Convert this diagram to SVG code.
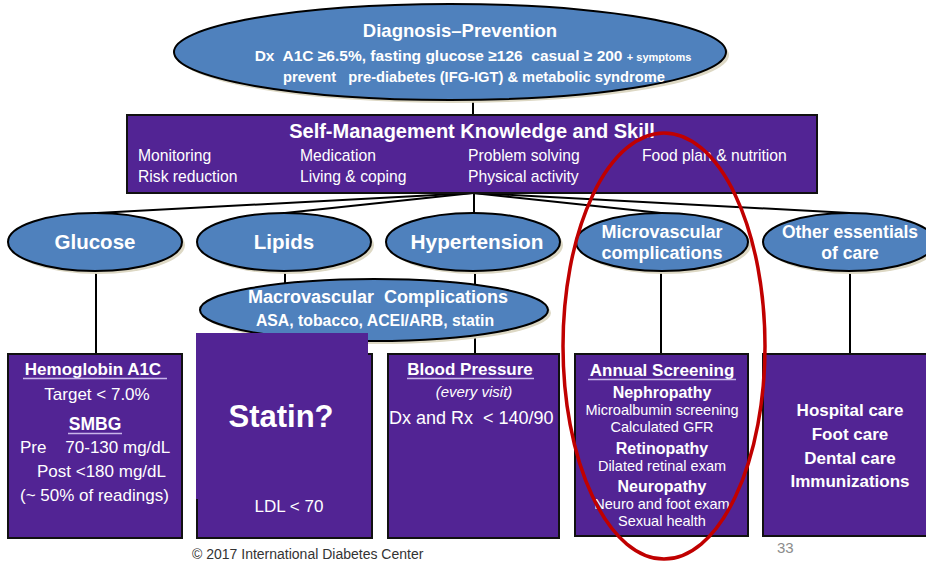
<svg xmlns="http://www.w3.org/2000/svg" width="926" height="563" viewBox="0 0 926 563">
<style>
text{font-family:"Liberation Sans",Arial,sans-serif;fill:#fff}
.b{font-weight:bold}
.m{text-anchor:middle}
.ell{fill:#4f81bd;stroke:#000;stroke-width:2}
.sh{fill:#ddd8c4}
.box{fill:#522494;stroke:#111;stroke-width:2}
.con{stroke:#000;stroke-width:2;fill:none}
.ul{stroke:#c9b6ea;stroke-width:1.6}
</style>
<rect width="926" height="563" fill="#fff"/>
<g id="connectors">
<line class="con" x1="473" y1="99" x2="473" y2="115"/>
<line class="con" x1="473" y1="193" x2="97" y2="213"/>
<line class="con" x1="473" y1="193" x2="285" y2="213"/>
<line class="con" x1="474" y1="193" x2="474" y2="213"/>
<line class="con" x1="473" y1="193" x2="661" y2="213"/>
<line class="con" x1="473" y1="193" x2="850" y2="213"/>
<line class="con" x1="96" y1="271" x2="96" y2="354"/>
<line class="con" x1="285" y1="271" x2="285" y2="354"/>
<line class="con" x1="475" y1="271" x2="475" y2="354"/>
<line class="con" x1="661" y1="271" x2="661" y2="354"/>
<line class="con" x1="850" y1="271" x2="850" y2="354"/>
</g>
<g id="diagnosis">
<ellipse class="sh" cx="453" cy="55" rx="276" ry="48"/>
<ellipse class="ell" cx="450" cy="52" rx="276" ry="48"/>
<text class="b m" x="460" y="37" font-size="18.5">Diagnosis–Prevention</text>
<text class="b m" x="473" y="61" font-size="15.5">Dx&#160; A1C ≥6.5%, fasting glucose ≥126&#160; casual ≥ 200 <tspan font-size="11">+ symptoms</tspan></text>
<text class="b m" x="474" y="82" font-size="14.7">prevent&#160;&#160; pre-diabetes (IFG-IGT) &amp; metabolic syndrome</text>
</g>
<g id="selfmanagement">
<rect class="box" x="127" y="115" width="690" height="78"/>
<text class="b m" x="472" y="138" font-size="20">Self-Management Knowledge and Skill</text>
<g font-size="15.7">
<text x="138" y="161">Monitoring</text>
<text x="300" y="161">Medication</text>
<text x="468" y="161">Problem solving</text>
<text x="642" y="161">Food plan &amp; nutrition</text>
<text x="138" y="182">Risk reduction</text>
<text x="300" y="182">Living &amp; coping</text>
<text x="468" y="182">Physical activity</text>
</g>
</g>
<g id="glucose">
<ellipse class="sh" cx="98" cy="245" rx="87" ry="29"/>
<ellipse class="ell" cx="95" cy="242" rx="87" ry="29"/>
<text class="b m" x="95" y="249" font-size="20.5">Glucose</text>
</g>
<g id="lipids">
<ellipse class="sh" cx="287" cy="245" rx="87" ry="29"/>
<ellipse class="ell" cx="284" cy="242" rx="87" ry="29"/>
<text class="b m" x="284" y="249" font-size="20.5">Lipids</text>
</g>
<g id="hypertension">
<ellipse class="sh" cx="476" cy="245" rx="87" ry="29"/>
<ellipse class="ell" cx="473" cy="242" rx="87" ry="29"/>
<text class="b m" x="477" y="249" font-size="20.8">Hypertension</text>
</g>
<g id="microvascular">
<ellipse class="sh" cx="665" cy="245" rx="86" ry="29"/>
<ellipse class="ell" cx="662" cy="242" rx="86" ry="29"/>
<text class="b m" x="662" y="238" font-size="18">Microvascular</text>
<text class="b m" x="662" y="259" font-size="18">complications</text>
</g>
<g id="other">
<ellipse class="sh" cx="852" cy="245" rx="86" ry="29"/>
<ellipse class="ell" cx="849" cy="242" rx="86" ry="29"/>
<text class="b m" x="850" y="238" font-size="17.5">Other essentials</text>
<text class="b m" x="850" y="259" font-size="17.5">of care</text>
</g>
<g id="macrovascular">
<ellipse class="sh" cx="377" cy="313" rx="174" ry="31"/>
<ellipse class="ell" cx="374" cy="310" rx="174" ry="31"/>
<text class="b m" x="378" y="303" font-size="18">Macrovascular&#160; Complications</text>
<text class="b m" x="375" y="326" font-size="15.8">ASA, tobacco, ACEI/ARB, statin</text>
</g>
<g id="hba1c">
<rect class="box" x="8" y="354" width="174" height="184"/>
<text class="b m" x="93" y="375" font-size="17">Hemoglobin A1C</text>
<line class="ul" x1="23" y1="378.5" x2="167" y2="378.5"/>
<text class="m" x="97" y="400" font-size="17">Target &lt; 7.0%</text>
<text class="b m" x="95" y="430" font-size="17.5">SMBG</text>
<line class="ul" x1="68" y1="433.5" x2="122" y2="433.5"/>
<text x="20" y="453" font-size="17">Pre&#160;&#160;&#160; 70-130 mg/dL</text>
<text x="37" y="477" font-size="17">Post &lt;180 mg/dL</text>
<text x="20" y="501" font-size="17">(~ 50% of readings)</text>
</g>
<g id="statin">
<rect class="box" x="197" y="354" width="175" height="184"/>
<rect x="196" y="333" width="172" height="166" fill="#522494"/>
<text class="b m" x="281" y="427" font-size="31">Statin?</text>
<text class="m" x="289" y="512" font-size="17">LDL &lt; 70</text>
</g>
<g id="bloodpressure">
<rect class="box" x="388" y="354" width="171" height="184"/>
<text class="b m" x="470" y="375" font-size="17">Blood Pressure</text>
<line class="ul" x1="407" y1="378.5" x2="534" y2="378.5"/>
<text class="m" x="474" y="397" font-size="15" font-style="italic" fill="#ece8f4">(every visit)</text>
<text x="389" y="424" font-size="18">Dx and Rx&#160; &lt; 140/90</text>
</g>
<g id="annualscreening">
<rect class="box" x="575" y="354" width="173" height="182"/>
<text class="b m" x="662" y="376" font-size="17">Annual Screening</text>
<line class="ul" x1="588" y1="379.5" x2="736" y2="379.5"/>
<text class="b m" x="662" y="398" font-size="16">Nephropathy</text>
<text class="m" x="662" y="415" font-size="14.5">Microalbumin screening</text>
<text class="m" x="662" y="432" font-size="14.5">Calculated GFR</text>
<text class="b m" x="662" y="454" font-size="16">Retinopathy</text>
<text class="m" x="662" y="471" font-size="14.5">Dilated retinal exam</text>
<text class="b m" x="662" y="492" font-size="16">Neuropathy</text>
<text class="m" x="662" y="509" font-size="14.5">Neuro and foot exam</text>
<text class="m" x="662" y="526" font-size="14.5">Sexual health</text>
</g>
<g id="othercare">
<rect class="box" x="763" y="354" width="180" height="182"/>
<text class="b m" x="850" y="416" font-size="17">Hospital care</text>
<text class="b m" x="850" y="440" font-size="17">Foot care</text>
<text class="b m" x="850" y="464" font-size="17">Dental care</text>
<text class="b m" x="850" y="487" font-size="17">Immunizations</text>
</g>
<ellipse id="highlight" cx="664" cy="346" rx="101" ry="213" fill="none" stroke="#c00000" stroke-width="3.5"/>
<text x="192" y="559" font-size="14" style="fill:#333">© 2017 International Diabetes Center</text>
<text x="777" y="553" font-size="15" style="fill:#8c8c8c">33</text>
</svg>
